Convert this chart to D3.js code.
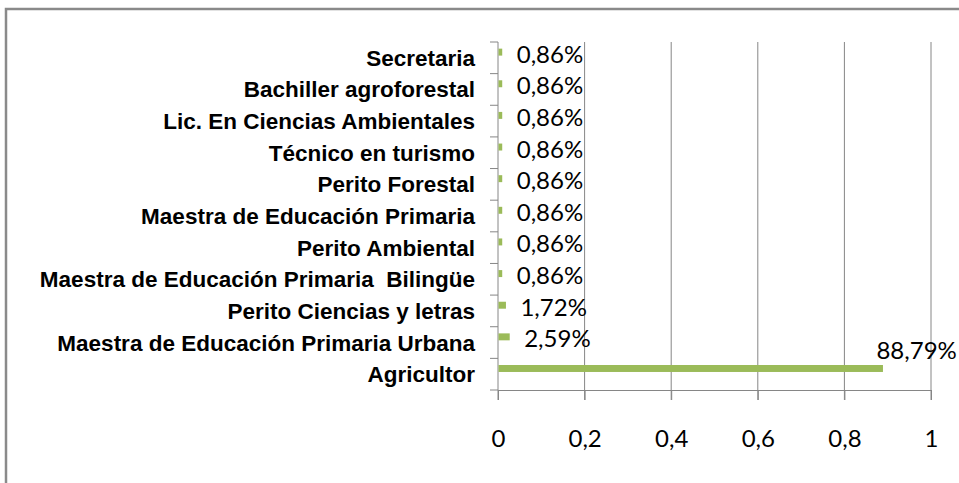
<!DOCTYPE html>
<html><head><meta charset="utf-8">
<script src="https://cdn.jsdelivr.net/npm/d3@7"></script>
<style>body{margin:0;background:#fff}svg{display:block}</style>
</head><body>
<script>
const categories = ["Secretaria","Bachiller agroforestal","Lic. En Ciencias Ambientales","Técnico en turismo","Perito Forestal","Maestra de Educación Primaria","Perito Ambiental","Maestra de Educación Primaria  Bilingüe","Perito Ciencias y letras","Maestra de Educación Primaria Urbana","Agricultor"];
const values = [0.0086,0.0086,0.0086,0.0086,0.0086,0.0086,0.0086,0.0086,0.0172,0.0259,0.8879];
const valueLabels = ["0,86%","0,86%","0,86%","0,86%","0,86%","0,86%","0,86%","0,86%","1,72%","2,59%","88,79%"];
const xTicks = [0,0.2,0.4,0.6,0.8,1];
const xTickLabels = ["0","0,2","0,4","0,6","0,8","1"];

const W=959,H=483;
const svg=d3.select("body").append("svg").attr("width",W).attr("height",H);
svg.append("rect").attr("x",6).attr("y",9).attr("width",1200).attr("height",1200)
  .attr("fill","none").attr("stroke","#8a8a8a").attr("stroke-width",2.5);

const x=d3.scaleLinear().domain([0,1]).range([498,931]);
const y=d3.scaleBand().domain(categories).range([42,390]);
const grid="#868686";

// gridlines
svg.append("g").selectAll("line").data(xTicks.slice(1)).join("line")
  .attr("x1",d=>x(d)).attr("x2",d=>x(d)).attr("y1",42).attr("y2",400)
  .attr("stroke",grid).attr("stroke-width",1);
// x axis
const xa=svg.append("g").attr("transform","translate(0,390)")
  .call(d3.axisBottom(x).tickValues(xTicks).tickSize(10).tickFormat((d,i)=>xTickLabels[i]));
xa.select(".domain").attr("stroke",grid);
xa.selectAll(".tick line").attr("stroke",grid);
xa.selectAll(".tick text").attr("font-family","Lato").attr("font-size",24).attr("fill","#000").attr("dy",null).attr("y",57);

// y axis
const bounds=categories.map(c=>y(c)).concat([390]);
svg.append("line").attr("x1",498).attr("x2",498).attr("y1",42).attr("y2",400).attr("stroke",grid);
svg.append("g").selectAll("line").data(bounds).join("line")
  .attr("x1",490).attr("x2",498).attr("y1",d=>d).attr("y2",d=>d).attr("stroke",grid);

// category labels
svg.append("g").selectAll("text").data(categories).join("text")
  .attr("x",475).attr("y",d=>y(d)+y.bandwidth()/2+8)
  .attr("text-anchor","end").attr("font-family","Liberation Sans").attr("font-weight","bold")
  .style("white-space","pre")
  .attr("font-size",22.5).attr("fill","#000").text(d=>d);

// bars
const bh=y.bandwidth()*0.22;
svg.append("g").selectAll("rect").data(values).join("rect")
  .attr("x",x(0)+0.5).attr("y",(d,i)=>y(categories[i])+y.bandwidth()*0.21)
  .attr("width",d=>x(d)-x(0)).attr("height",bh).attr("fill","#9BBB59");

// value labels
svg.append("g").selectAll("text").data(values).join("text")
  .attr("font-family","Lato").attr("font-size",24).attr("fill","#000")
  .attr("dominant-baseline","central")
  .attr("x",d=>x(d)+80>x(1)?x(d)-6:x(d)+15)
  .attr("y",(d,i)=>{const c=y(categories[i])+y.bandwidth()*0.21+bh/2; return x(d)+80>x(1)?c-19:c+1;})
  .text((d,i)=>valueLabels[i]);
</script>
</body></html>
